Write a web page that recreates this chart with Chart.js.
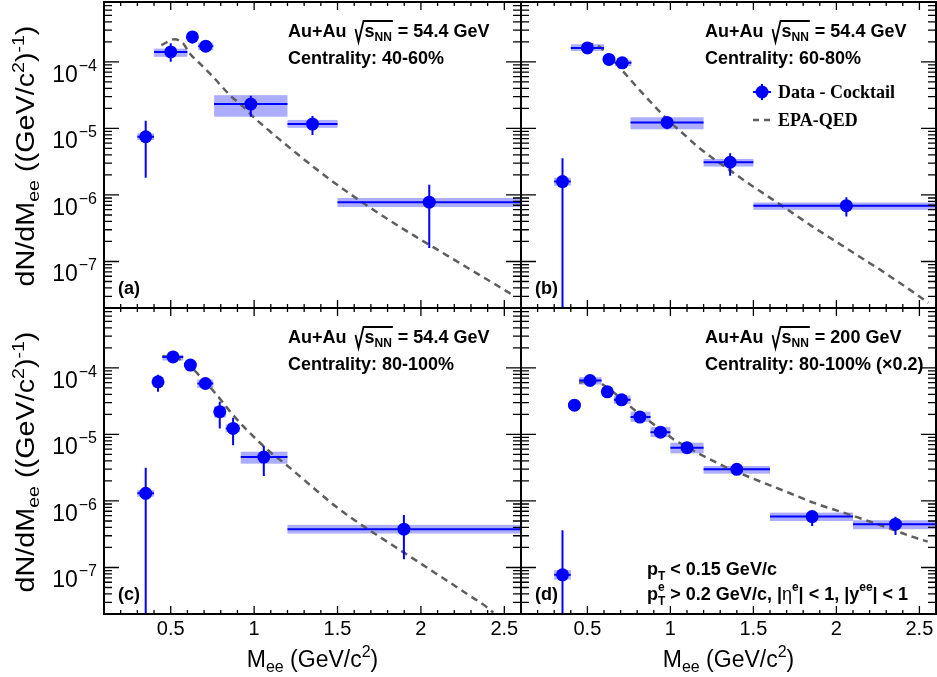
<!DOCTYPE html>
<html>
<head>
<meta charset="utf-8">
<title>Dielectron excess mass spectra</title>
<script src="https://cdn.jsdelivr.net/npm/chart.js@4.4.1/dist/chart.umd.min.js"></script>
<style>
  html, body { margin: 0; padding: 0; background: #fff; }
  #wrap { position: relative; width: 937px; height: 677px; }
  #wrap canvas { position: absolute; left: 0; top: 0; }
</style>
</head>
<body>
<div id="wrap">
  <canvas id="panelA" width="937" height="677"></canvas>
  <canvas id="panelB" width="937" height="677"></canvas>
  <canvas id="panelC" width="937" height="677"></canvas>
  <canvas id="panelD" width="937" height="677"></canvas>
</div>
<script>
// axis ranges and tick labels
const xMin = 0.1, xMax = 2.6;
const yMin = 2.0e-8, yMax = 7.94e-4;
const xTickValues = [0.5, 1, 1.5, 2, 2.5];
const xTickLabels = ['0.5', '1', '1.5', '2', '2.5'];
const yTickExponents = [-4, -5, -6, -7];
const yTickLabels = ['\u22124', '\u22125', '\u22126', '\u22127'];

// (a) Au+Au 54.4 GeV, 40-60%
const massA    = [0.35, 0.50, 0.63, 0.71, 0.98, 1.35, 2.05];
const yieldA   = [7.5e-6, 1.41e-4, 2.37e-4, 1.72e-4, 2.32e-5, 1.16e-5, 7.8e-7];
const statLoA  = [1.82e-6, 1.0e-4, 1.89e-4, 1.55e-4, 1.50e-5, 7.96e-6, 1.59e-7];
const statHiA  = [1.30e-5, 1.9e-4, 2.88e-4, 1.9e-4, 3.09e-5, 1.53e-5, 1.42e-6];
const binLoA   = [0.30, 0.40, 0.60, 0.665, 0.76, 1.20, 1.50];
const binHiA   = [0.40, 0.60, 0.66, 0.755, 1.20, 1.50, 2.60];
const sysLoA   = [6.7e-6, 1.19e-4, 2.2e-4, 1.5e-4, 1.5e-5, 1.02e-5, 6.6e-7];
const sysHiA   = [8.4e-6, 1.58e-4, 2.55e-4, 1.95e-4, 3.16e-5, 1.34e-5, 9.0e-7];
const curveMassA = [0.444, 0.524, 0.574, 0.614, 0.674, 0.754, 0.854, 0.934, 0.994, 1.074, 1.174, 1.274,
                    1.374, 1.474, 1.574, 1.674, 1.774, 1.874, 1.974, 2.074, 2.174, 2.274, 2.374, 2.474, 2.554];
const curveA = [1.78e-4, 2.19e-4, 1.89e-4, 1.34e-4, 9.46e-5, 5.96e-5, 3.17e-5, 2.12e-5, 1.50e-5, 1.0e-5, 6.17e-6, 3.85e-6,
                2.43e-6, 1.57e-6, 1.04e-6, 7.0e-7, 4.79e-7, 3.31e-7, 2.32e-7, 1.64e-7, 1.16e-7, 8.2e-8, 5.8e-8, 4.1e-8, 3.1e-8];

// (b) Au+Au 54.4 GeV, 60-80%
const massB    = [0.35, 0.50, 0.63, 0.71, 0.98, 1.36, 2.06];
const yieldB   = [1.59e-6, 1.62e-4, 1.09e-4, 9.66e-5, 1.23e-5, 3.1e-6, 6.9e-7];
const statLoB  = [0, 1.45e-4, 9.8e-5, 8.8e-5, 9.7e-6, 1.95e-6, 4.74e-7];
const statHiB  = [3.56e-6, 1.8e-4, 1.2e-4, 1.05e-4, 1.5e-5, 4.23e-6, 9.27e-7];
const binLoB   = [0.30, 0.40, 0.60, 0.665, 0.76, 1.20, 1.50];
const binHiB   = [0.40, 0.60, 0.66, 0.765, 1.20, 1.50, 2.60];
const sysLoB   = [1.38e-6, 1.46e-4, 1.0e-4, 8.6e-5, 9.7e-6, 2.67e-6, 5.98e-7];
const sysHiB   = [1.82e-6, 1.84e-4, 1.18e-4, 1.06e-4, 1.47e-5, 3.48e-6, 7.7e-7];
const curveMassB = [0.494, 0.574, 0.664, 0.744, 0.824, 0.904, 0.984, 1.064, 1.164, 1.264, 1.364, 1.464,
                    1.564, 1.664, 1.764, 1.864, 1.964, 2.064, 2.164, 2.264, 2.364, 2.464, 2.554];
const curveB = [1.93e-4, 1.68e-4, 1.0e-4, 5.96e-5, 3.55e-5, 2.17e-5, 1.34e-5, 8.93e-6, 5.32e-6, 3.44e-6, 2.3e-6, 1.53e-6,
                1.04e-6, 7.1e-7, 4.8e-7, 3.25e-7, 2.25e-7, 1.56e-7, 1.08e-7, 7.5e-8, 5.1e-8, 3.45e-8, 2.4e-8];

// (c) Au+Au 54.4 GeV, 80-100%
const massC    = [0.35, 0.424, 0.514, 0.618, 0.708, 0.794, 0.874, 1.058, 1.898];
const yieldC   = [1.30e-6, 6.17e-5, 1.46e-4, 1.10e-4, 5.82e-5, 2.19e-5, 1.23e-5, 4.57e-6, 3.76e-7];
const statLoC  = [0, 4.37e-5, 1.35e-4, 1.0e-4, 5.2e-5, 1.23e-5, 6.9e-6, 2.37e-6, 1.33e-7];
const statHiC  = [3.16e-6, 7.9e-5, 1.58e-4, 1.2e-4, 6.5e-5, 3.09e-5, 1.78e-5, 6.68e-6, 6.17e-7];
const binLoC   = [0.30, 0.40, 0.45, 0.59, 0.66, 0.76, 0.83, 0.92, 1.20];
const binHiC   = [0.40, 0.45, 0.575, 0.65, 0.755, 0.83, 0.915, 1.20, 2.60];
const sysLoC   = [1.16e-6, 5.6e-5, 1.29e-4, 1.0e-4, 5.0e-5, 1.78e-5, 1.08e-5, 3.63e-6, 3.24e-7];
const sysHiC   = [1.46e-6, 6.8e-5, 1.58e-4, 1.2e-4, 6.68e-5, 2.66e-5, 1.41e-5, 5.5e-6, 4.37e-7];
const curveMassC = [0.45, 0.534, 0.614, 0.694, 0.774, 0.854, 0.934, 1.014, 1.094, 1.194, 1.294, 1.394,
                    1.494, 1.594, 1.694, 1.794, 1.894, 1.994, 2.094, 2.194, 2.294, 2.394, 2.434];
const curveC = [1.50e-4, 1.41e-4, 1.06e-4, 6.68e-5, 3.98e-5, 2.24e-5, 1.33e-5, 8.41e-6, 5.5e-6, 3.47e-6, 2.13e-6, 1.3e-6,
                8.1e-7, 5.3e-7, 3.6e-7, 2.47e-7, 1.7e-7, 1.17e-7, 8.0e-8, 5.5e-8, 3.75e-8, 2.55e-8, 2.1e-8];

// (d) Au+Au 200 GeV, 80-100% (x0.2)
const massD    = [0.35, 0.422, 0.516, 0.62, 0.706, 0.816, 0.94, 1.10, 1.40, 1.854, 2.356];
const yieldD   = [7.76e-8, 2.75e-5, 6.46e-5, 4.37e-5, 3.31e-5, 1.82e-5, 1.08e-5, 6.31e-6, 2.99e-6, 5.82e-7, 4.47e-7];
const statLoD  = [0, 2.6e-5, 6.1e-5, 4.2e-5, 3.15e-5, 1.72e-5, 1.02e-5, 5.9e-6, 2.85e-6, 4.2e-7, 3.09e-7];
const statHiD  = [3.63e-7, 2.9e-5, 6.8e-5, 4.55e-5, 3.5e-5, 1.92e-5, 1.14e-5, 6.7e-6, 3.15e-6, 6.9e-7, 5.8e-7];
const binLoD   = [0.30, 0.40, 0.45, 0.59, 0.66, 0.76, 0.88, 1.00, 1.20, 1.60, 2.10];
const binHiD   = [0.40, 0.44, 0.585, 0.65, 0.76, 0.88, 1.00, 1.20, 1.60, 2.10, 2.60];
const sysLoD   = [6.6e-8, 2.6e-5, 5.62e-5, 4.0e-5, 2.88e-5, 1.55e-5, 9.1e-6, 5.19e-6, 2.57e-6, 5.0e-7, 3.76e-7];
const sysHiD   = [9.1e-8, 2.9e-5, 7.24e-5, 4.8e-5, 3.85e-5, 2.19e-5, 1.29e-5, 7.5e-6, 3.35e-6, 6.68e-7, 5.13e-7];
const curveMassD = [0.45, 0.54, 0.62, 0.70, 0.78, 0.86, 0.94, 1.02, 1.10, 1.18, 1.26, 1.36,
                    1.46, 1.56, 1.66, 1.76, 1.86, 1.96, 2.06, 2.16, 2.26, 2.36, 2.46, 2.55];
const curveD = [5.96e-5, 6.46e-5, 5.01e-5, 3.55e-5, 2.37e-5, 1.68e-5, 1.19e-5, 8.41e-6, 6.46e-6, 5.01e-6, 3.98e-6, 2.99e-6,
                2.37e-6, 1.88e-6, 1.50e-6, 1.19e-6, 9.44e-7, 7.76e-7, 6.46e-7, 5.31e-7, 4.37e-7, 3.55e-7, 2.88e-7, 2.45e-7];

const SANS = '"Liberation Sans", Arial, Helvetica, sans-serif';
const SERIF = '"Liberation Serif", "Times New Roman", serif';
const BLUE = '#0000ff';
const BOX = 'rgba(40, 40, 255, 0.38)';
const CURVE = '#5e5e5e';

function font(size, bold) {
  return (bold ? 'bold ' : '') + size + 'px ' + SANS;
}

// text made of pieces {t, size, bold, dy}; returns the x after the last piece
function drawRun(ctx, x, y, pieces, measureOnly) {
  for (const p of pieces) {
    ctx.font = p.family ? (p.bold ? 'bold ' : '') + p.size + 'px ' + p.family : font(p.size, p.bold);
    if (!measureOnly) ctx.fillText(p.t, x, y + (p.dy || 0));
    if (!p.keep) x += ctx.measureText(p.t).width;
  }
  return x;
}

function drawEnergy(ctx, x, y, energy) {
  ctx.fillStyle = '#000';
  ctx.textAlign = 'left';
  ctx.textBaseline = 'alphabetic';
  x = drawRun(ctx, x, y, [{ t: 'Au+Au', size: 18, bold: true }]) + 9;
  const top = y - 16;
  ctx.strokeStyle = '#000';
  ctx.lineWidth = 1.8;
  ctx.beginPath();
  ctx.moveTo(x, y - 8);
  ctx.lineTo(x + 3, y + 5);
  ctx.lineTo(x + 8, top);
  x += 9;
  x = drawRun(ctx, x, y, [{ t: 's', size: 18, bold: true }, { t: 'NN', size: 12, bold: true, dy: 4 }]);
  ctx.lineTo(x + 1, top);
  ctx.stroke();
  drawRun(ctx, x + 1, y, [{ t: ' = ' + energy + ' GeV', size: 18, bold: true }]);
}

function makePanelPlugin(p) {
  return {
    id: 'rootPanel',
    beforeDatasetsDraw(chart) {
      const { ctx, chartArea: a, scales: { x, y } } = chart;
      ctx.save();
      ctx.beginPath();
      ctx.rect(a.left, a.top, a.right - a.left, a.bottom - a.top);
      ctx.clip();
      ctx.fillStyle = BOX;
      p.mass.forEach((m, i) => {
        const x0 = x.getPixelForValue(p.binLo[i]);
        const x1 = x.getPixelForValue(p.binHi[i]);
        const y0 = y.getPixelForValue(p.sysHi[i]);
        const y1 = y.getPixelForValue(p.sysLo[i]);
        ctx.fillRect(x0, y0, x1 - x0, y1 - y0);
      });
      ctx.restore();
    },
    beforeDatasetDraw(chart, args) {
      if (args.index !== 0) return;
      const { ctx, chartArea: a, scales: { x, y } } = chart;
      ctx.save();
      ctx.beginPath();
      ctx.rect(a.left, a.top, a.right - a.left, a.bottom - a.top);
      ctx.clip();
      ctx.strokeStyle = BLUE;
      ctx.lineWidth = 2;
      p.mass.forEach((m, i) => {
        const px = x.getPixelForValue(m);
        const py = y.getPixelForValue(p.yield[i]);
        const lo = p.statLo[i] > 0 ? y.getPixelForValue(p.statLo[i]) : a.bottom;
        ctx.beginPath();
        ctx.moveTo(px, y.getPixelForValue(p.statHi[i]));
        ctx.lineTo(px, lo);
        ctx.moveTo(x.getPixelForValue(p.binLo[i]), py);
        ctx.lineTo(x.getPixelForValue(p.binHi[i]), py);
        ctx.stroke();
      });
      ctx.restore();
    },
    afterDraw(chart) {
      const { ctx, chartArea: a, scales: { x, y } } = chart;
      ctx.save();
      // frame
      ctx.strokeStyle = '#000';
      ctx.lineWidth = 2;
      ctx.strokeRect(a.left, a.top, a.right - a.left, a.bottom - a.top);
      // ticks on all four sides, pointing inwards
      ctx.lineWidth = 1.3;
      ctx.beginPath();
      for (let k = 1; k <= 26; k++) {
        const px = x.getPixelForValue(k / 10);
        const len = k % 5 === 0 ? 8 : 4;
        ctx.moveTo(px, a.bottom); ctx.lineTo(px, a.bottom - len);
        ctx.moveTo(px, a.top); ctx.lineTo(px, a.top + len);
      }
      for (let e = -8; e <= -3; e++) {
        for (let m = 1; m <= 9; m++) {
          const v = m * Math.pow(10, e);
          if (v < yMin || v > yMax) continue;
          const py = y.getPixelForValue(v);
          const len = m === 1 ? 15 : 8;
          ctx.moveTo(a.left, py); ctx.lineTo(a.left + len, py);
          ctx.moveTo(a.right, py); ctx.lineTo(a.right - len, py);
        }
      }
      ctx.stroke();

      ctx.fillStyle = '#000';
      ctx.textBaseline = 'alphabetic';
      // y tick labels 10^n
      if (p.yLabels) {
        yTickExponents.forEach((e, i) => {
          const py = y.getPixelForValue(Math.pow(10, e));
          ctx.font = font(16, false);
          const sw = ctx.measureText(yTickLabels[i]).width;
          const right = a.left - 7;
          ctx.textAlign = 'left';
          ctx.fillText(yTickLabels[i], right - sw, py + 9);
          ctx.font = font(23, false);
          ctx.textAlign = 'right';
          ctx.fillText('10', right - sw - 1, py + 20);
        });
        // rotated y title, slightly stretched along its length like the original
        const pieces = [
          { t: 'dN/dM', size: 25 }, { t: 'ee', size: 17, dy: 5 }, { t: ' ((GeV/c', size: 25 },
          { t: '2', size: 17, dy: -10 }, { t: ')', size: 25 }, { t: '-1', size: 17, dy: -10 }, { t: ')', size: 25 }
        ];
        ctx.textAlign = 'left';
        const w = drawRun(ctx, 0, 0, pieces, true);
        ctx.save();
        ctx.translate(34, (a.top + a.bottom) / 2 + 1);
        ctx.rotate(-Math.PI / 2);
        ctx.scale(1.15, 1);
        drawRun(ctx, -w / 2, 0, pieces);
        ctx.restore();
      }
      // x tick labels and title
      if (p.xLabels) {
        ctx.font = font(20, false);
        ctx.textAlign = 'center';
        xTickValues.forEach((v, i) => {
          ctx.fillText(xTickLabels[i], x.getPixelForValue(v), a.bottom + 21);
        });
        const pieces = [
          { t: 'M', size: 23 }, { t: 'ee', size: 16, dy: 5 }, { t: ' (GeV/c', size: 23 },
          { t: '2', size: 16, dy: -10 }, { t: ')', size: 23 }
        ];
        ctx.textAlign = 'left';
        const w = drawRun(ctx, 0, 0, pieces, true);
        drawRun(ctx, (a.left + a.right) / 2 - w / 2, a.bottom + 53, pieces);
      }
      // annotations
      ctx.textAlign = 'left';
      drawEnergy(ctx, a.left + 184, a.top + 35, p.energy);
      drawRun(ctx, a.left + 184, a.top + 61.5, [{ t: p.centrality, size: 18, bold: true }]);
      drawRun(ctx, a.left + 14, a.bottom - 14, [{ t: p.tag, size: 18, bold: true }]);

      if (p.legend) {
        const lx = a.left + 241, ly = a.top + 90;
        ctx.strokeStyle = BLUE;
        ctx.lineWidth = 2;
        ctx.beginPath();
        ctx.moveTo(lx - 9, ly); ctx.lineTo(lx + 9, ly);
        ctx.moveTo(lx, ly - 8); ctx.lineTo(lx, ly + 8);
        ctx.stroke();
        ctx.fillStyle = BLUE;
        ctx.beginPath();
        ctx.arc(lx, ly, 6.5, 0, Math.PI * 2);
        ctx.fill();
        ctx.strokeStyle = CURVE;
        ctx.lineWidth = 2.5;
        ctx.setLineDash([6, 5]);
        ctx.beginPath();
        ctx.moveTo(lx - 9, ly + 28); ctx.lineTo(lx + 12, ly + 28);
        ctx.stroke();
        ctx.setLineDash([]);
        ctx.fillStyle = '#000';
        drawRun(ctx, lx + 16, ly + 6, [{ t: 'Data - Cocktail', size: 18, bold: true, family: SERIF }]);
        drawRun(ctx, lx + 16, ly + 34, [{ t: 'EPA-QED', size: 18, bold: true, family: SERIF }]);
      }
      if (p.cuts) {
        const cx = a.left + 126;
        drawRun(ctx, cx, a.bottom - 39, [
          { t: 'p', size: 18, bold: true }, { t: 'T', size: 12, bold: true, dy: 5 }, { t: ' < 0.15 GeV/c', size: 18, bold: true }
        ]);
        drawRun(ctx, cx, a.bottom - 14, [
          { t: 'p', size: 18, bold: true }, { t: 'e', size: 12, bold: true, dy: -9, keep: true },
          { t: 'T', size: 12, bold: true, dy: 5 },
          { t: ' > 0.2 GeV/c, |', size: 18, bold: true }, { t: '\u03b7', size: 18 },
          { t: 'e', size: 12, bold: true, dy: -9 }, { t: '| < 1, |y', size: 18, bold: true },
          { t: 'ee', size: 12, bold: true, dy: -9 }, { t: '| < 1', size: 18, bold: true }
        ]);
      }
      ctx.restore();
    }
  };
}

const panels = [
  { id: 'panelA', area: { left: 104, top: 2, right: 521, bottom: 308 }, tag: '(a)', energy: '54.4',
    centrality: 'Centrality: 40-60%', yLabels: true, xLabels: false,
    mass: massA, yield: yieldA, statLo: statLoA, statHi: statHiA, binLo: binLoA, binHi: binHiA,
    sysLo: sysLoA, sysHi: sysHiA, curveMass: curveMassA, curve: curveA },
  { id: 'panelB', area: { left: 521, top: 2, right: 936, bottom: 308 }, tag: '(b)', energy: '54.4',
    centrality: 'Centrality: 60-80%', yLabels: false, xLabels: false, legend: true,
    mass: massB, yield: yieldB, statLo: statLoB, statHi: statHiB, binLo: binLoB, binHi: binHiB,
    sysLo: sysLoB, sysHi: sysHiB, curveMass: curveMassB, curve: curveB },
  { id: 'panelC', area: { left: 104, top: 308, right: 521, bottom: 614 }, tag: '(c)', energy: '54.4',
    centrality: 'Centrality: 80-100%', yLabels: true, xLabels: true,
    mass: massC, yield: yieldC, statLo: statLoC, statHi: statHiC, binLo: binLoC, binHi: binHiC,
    sysLo: sysLoC, sysHi: sysHiC, curveMass: curveMassC, curve: curveC },
  { id: 'panelD', area: { left: 521, top: 308, right: 936, bottom: 614 }, tag: '(d)', energy: '200',
    centrality: 'Centrality: 80-100% (\u00d70.2)', yLabels: false, xLabels: true, cuts: true,
    mass: massD, yield: yieldD, statLo: statLoD, statHi: statHiD, binLo: binLoD, binHi: binHiD,
    sysLo: sysLoD, sysHi: sysHiD, curveMass: curveMassD, curve: curveD }
];

panels.forEach(p => {
  const canvas = document.getElementById(p.id);
  new Chart(canvas, {
    type: 'scatter',
    data: {
      datasets: [
        {
          label: 'Data - Cocktail',
          data: p.mass.map((m, i) => ({ x: m, y: p.yield[i] })),
          pointRadius: 6.5,
          pointBackgroundColor: BLUE,
          pointBorderColor: BLUE,
          pointBorderWidth: 0,
          clip: false
        },
        {
          label: 'EPA-QED',
          data: p.curveMass.map((m, i) => ({ x: m, y: p.curve[i] })),
          showLine: true,
          pointRadius: 0,
          borderColor: CURVE,
          borderWidth: 2.5,
          borderDash: [7, 5],
          cubicInterpolationMode: 'monotone',
          clip: 0
        }
      ]
    },
    options: {
      responsive: false,
      animation: false,
      events: [],
      layout: {
        autoPadding: false,
        padding: { left: p.area.left, top: p.area.top, right: 937 - p.area.right, bottom: 677 - p.area.bottom }
      },
      scales: {
        x: { type: 'linear', min: xMin, max: xMax, display: false },
        y: { type: 'logarithmic', min: yMin, max: yMax, display: false }
      },
      plugins: { legend: { display: false }, tooltip: { enabled: false } }
    },
    plugins: [makePanelPlugin(p)]
  });
});
</script>
</body>
</html>
